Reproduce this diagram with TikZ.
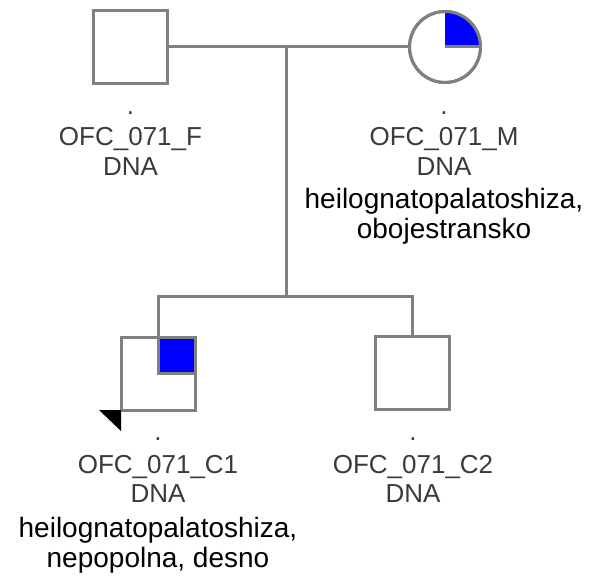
\documentclass[tikz,border=0pt]{standalone}
\usepackage{fontspec}
\setmainfont{Liberation Sans}
\begin{document}
\begin{tikzpicture}[x=1pt,y=-1pt,
  line/.style={draw=pedgray,line width=3pt},
  male/.style={rectangle,line,fill=white,minimum width=74pt,minimum height=73pt,inner sep=0pt,outer sep=0pt},
  female/.style={circle,line,fill=white,minimum size=71pt,inner sep=0pt,outer sep=0pt},
  idtext/.style={anchor=base,inner sep=0pt,text=idgray,font=\fontsize{26}{30}\selectfont},
  dxtext/.style={anchor=base,inner sep=0pt,text=black,font=\fontsize{28}{30}\selectfont}]
\definecolor{pedgray}{HTML}{808080}
\definecolor{idgray}{HTML}{3A3A3A}
\definecolor{affected}{HTML}{0000FF}
\useasboundingbox (0,0) rectangle (601,583);

% parents
\node[male] (fa) at (130.5,47) {};
\node[female] (mo) at (445,47) {};
\fill[affected] (mo.center) -- (mo.east) arc[start angle=0,end angle=90,radius=35.5pt] -- cycle;
\draw[line] (mo.center) -- (mo.east);
\draw[line] (mo) circle[radius=35.5pt];

% children
\node[male] (c1) at (158,373.5) {};
\node[male] (c2) at (412.5,373) {};
\draw[line,fill=affected] (c1.center) rectangle (c1.north east);

% proband marker
\fill[black] (c1.south west) -- ++(-22,0) -- ++(22,21) -- cycle;

% mating, descent and sibship lines
\coordinate (mate) at (286,47);
\coordinate (sibmid) at (286,296);
\coordinate (s1) at (158,296);
\coordinate (s2) at (412.5,296);
\draw[line] (fa.east) -- (mo.west);
\draw[line] (mate) -- (sibmid);
\draw[line,line join=miter] (c1.north) -- (s1) -- (s2) -- (c2.north);

% labels: father
\node[idtext] (fa-dot) at (130.5,114) {.};
\node[idtext] (fa-id) at (130.5,145) {OFC\_071\_F};
\node[idtext] (fa-dna) at (130.5,175) {DNA};

% labels: mother
\node[idtext] (mo-dot) at (444,114) {.};
\node[idtext] (mo-id) at (444,145) {OFC\_071\_M};
\node[idtext] (mo-dna) at (444,175) {DNA};
\node[dxtext] (mo-dx1) at (444,208) {heilognatopalatoshiza,};
\node[dxtext] (mo-dx2) at (444,238) {obojestransko};

% labels: first child
\node[idtext] (c1-dot) at (158,440) {.};
\node[idtext] (c1-id) at (158,473) {OFC\_071\_C1};
\node[idtext] (c1-dna) at (158,502) {DNA};
\node[dxtext] (c1-dx1) at (158,537) {heilognatopalatoshiza,};
\node[dxtext] (c1-dx2) at (158,567) {nepopolna, desno};

% labels: second child
\node[idtext] (c2-dot) at (413,440) {.};
\node[idtext] (c2-id) at (413,473) {OFC\_071\_C2};
\node[idtext] (c2-dna) at (413,502) {DNA};
\end{tikzpicture}
\end{document}
